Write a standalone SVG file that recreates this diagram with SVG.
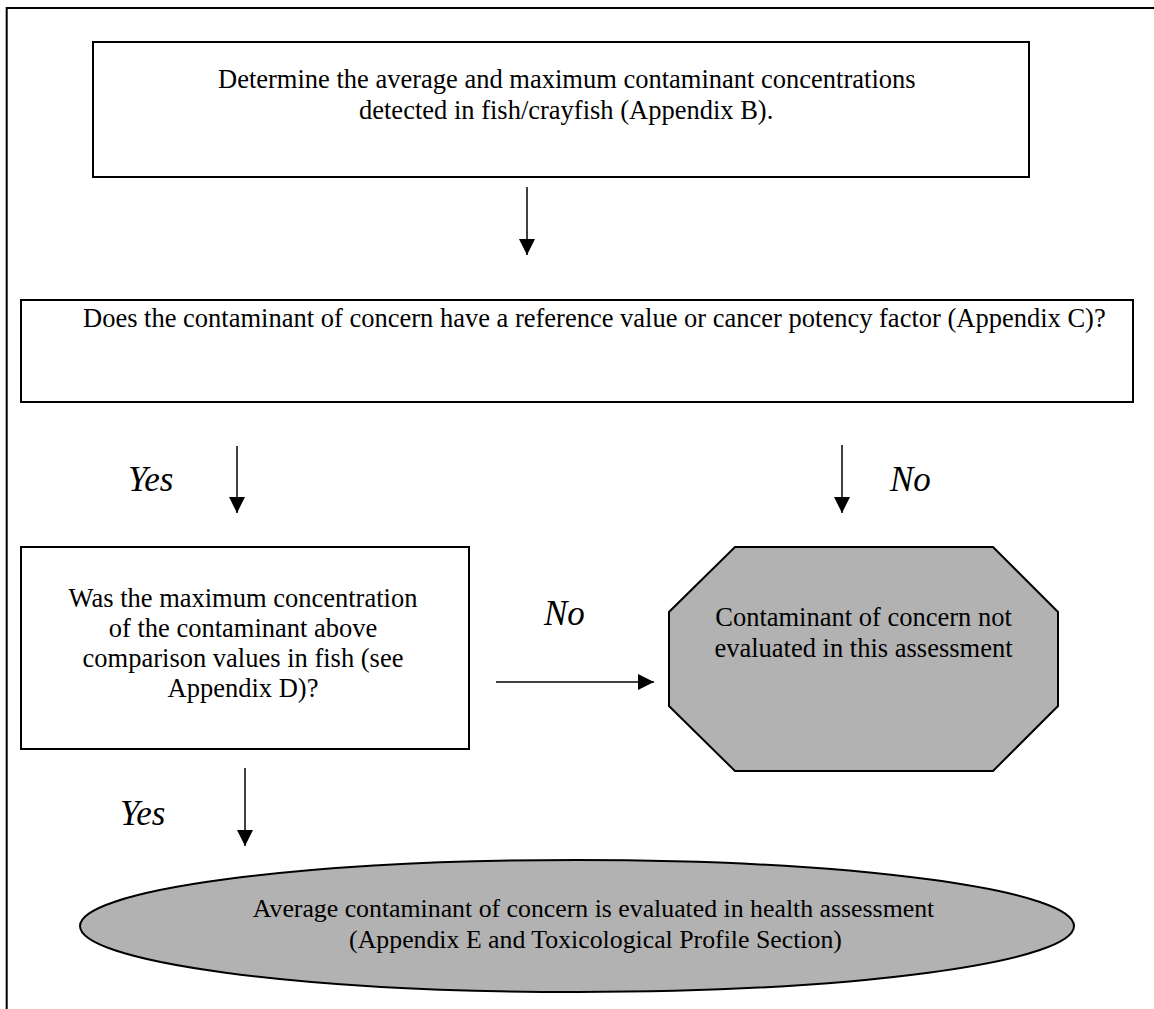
<svg xmlns="http://www.w3.org/2000/svg" width="1154" height="1009" viewBox="0 0 1154 1009">
<style>
.box{fill:#fff;stroke:#000;stroke-width:2}
.term{fill:#b2b2b2;stroke:#000;stroke-width:2}
.t{font-size:26.5px;fill:#000}
.te{font-size:25.8px;fill:#000}
.lbl{font-size:35px;font-style:italic;fill:#000}
.edge{stroke:#000;stroke-width:1.5;fill:none}
</style>
<defs>
<marker id="ah" markerUnits="userSpaceOnUse" markerWidth="16" markerHeight="16" viewBox="0 0 16 16" refX="16" refY="8" orient="auto">
<path d="M0,0 L16,8 L0,16 Z" fill="#000"/>
</marker>
</defs>
<rect width="1154" height="1009" fill="#fff"/>
<g id="frame">
<path d="M6.7,1009 V8 H1154" fill="none" stroke="#000" stroke-width="2"/>
</g>
<g font-family="'Liberation Serif', 'Times New Roman', Times, 'DejaVu Serif', serif">
<g id="node-determine">
<rect class="box" x="93" y="42" width="936" height="135"/>
<text class="t" x="218" y="88">Determine the average and maximum contaminant concentrations</text>
<text class="t" x="359" y="119">detected in fish/crayfish (Appendix B).</text>
</g>
<g id="node-reference">
<rect class="box" x="21" y="300" width="1112" height="102"/>
<text class="t" x="83" y="327">Does the contaminant of concern have a reference value or cancer potency factor (Appendix C)?</text>
</g>
<g id="node-maximum">
<rect class="box" x="21" y="547" width="448" height="202"/>
<text class="t" text-anchor="middle" x="243" y="607">Was the maximum concentration</text>
<text class="t" text-anchor="middle" x="243" y="637">of the contaminant above</text>
<text class="t" text-anchor="middle" x="243" y="667">comparison values in fish (see</text>
<text class="t" text-anchor="middle" x="243" y="697">Appendix D)?</text>
</g>
<g id="node-not-evaluated">
<polygon class="term" points="735,547 993,547 1058,612 1058,706 993,771 735,771 669,706 669,612"/>
<text class="t" text-anchor="middle" x="863.5" y="626">Contaminant of concern not</text>
<text class="t" text-anchor="middle" x="863.5" y="657">evaluated in this assessment</text>
</g>
<g id="node-evaluated">
<ellipse class="term" cx="577" cy="926" rx="497" ry="66"/>
<text class="te" text-anchor="middle" x="593.5" y="917">Average contaminant of concern is evaluated in health assessment</text>
<text class="te" text-anchor="middle" x="595.5" y="948">(Appendix E and Toxicological Profile Section)</text>
</g>
<g id="connectors">
<line class="edge" x1="527" y1="187" x2="527" y2="255" marker-end="url(#ah)"/>
<line class="edge" x1="237" y1="446" x2="237" y2="513" marker-end="url(#ah)"/>
<line class="edge" x1="842" y1="445" x2="842" y2="513" marker-end="url(#ah)"/>
<line class="edge" x1="496" y1="682" x2="654" y2="682" marker-end="url(#ah)"/>
<line class="edge" x1="245" y1="768" x2="245" y2="846" marker-end="url(#ah)"/>
<text class="lbl" x="128" y="491">Yes</text>
<text class="lbl" x="890" y="491">No</text>
<text class="lbl" x="544" y="625">No</text>
<text class="lbl" x="120" y="825">Yes</text>
</g>
</g>
</svg>
